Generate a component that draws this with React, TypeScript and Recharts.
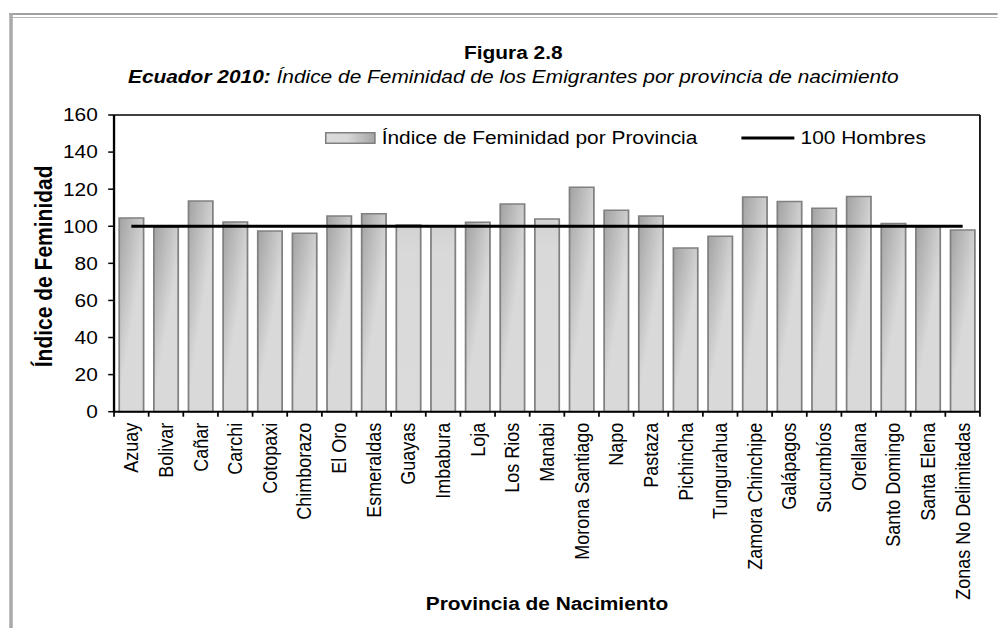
import React from "react";
import {
  Bar,
  Cell,
  ComposedChart,
  Legend,
  Line,
  ReferenceLine,
  XAxis,
  YAxis,
} from "recharts";

const provincias = [
  "Azuay",
  "Bolivar",
  "Cañar",
  "Carchi",
  "Cotopaxi",
  "Chimborazo",
  "El Oro",
  "Esmeraldas",
  "Guayas",
  "Imbabura",
  "Loja",
  "Los Rios",
  "Manabi",
  "Morona Santiago",
  "Napo",
  "Pastaza",
  "Pichincha",
  "Tungurahua",
  "Zamora Chinchipe",
  "Galápagos",
  "Sucumbíos",
  "Orellana",
  "Santo Domingo",
  "Santa Elena",
  "Zonas No Delimitadas",
];

const indiceFeminidad = [
  104.5, 99.6, 113.6, 102.3, 97.5, 96.2, 105.5, 106.8, 100.7, 100.2, 102.2,
  112.0, 103.9, 121.1, 108.7, 105.5, 88.3, 94.6, 115.8, 113.3, 109.7, 116.0,
  101.5, 99.8, 98.0,
];

const hombres = [
  100, 100, 100, 100, 100, 100, 100, 100, 100, 100, 100, 100, 100, 100, 100,
  100, 100, 100, 100, 100, 100, 100, 100, 100, 100,
];

const yTicks = [0, 20, 40, 60, 80, 100, 120, 140, 160];

// barras con relleno claro en el original
const barrasClaras = ["Guayas", "Imbabura", "Manabi"];

const data = provincias.map((p, i) => ({
  provincia: p,
  indice: indiceFeminidad[i],
  hombres: hombres[i],
}));

// the source image is stretched horizontally, so the chart is drawn narrower and scaled
const STRETCH = 1.16;
const W = 860;
const H = 628;
const MARGIN = { top: 115, right: 15.2, bottom: 16.3, left: 0 };
const Y_AXIS_W = 98.3;
const X_AXIS_H = 200;
const BAND = (W - MARGIN.left - MARGIN.right - Y_AXIS_W) / provincias.length;
const FONT = '"Liberation Sans", Arial, Helvetica, sans-serif';

const XTick = (props: any) => {
  const { x, y, payload } = props;
  const index = props.index ?? payload.index;
  const half = BAND / 2;
  const tx = x + 6;
  const ty = y + 11;
  return (
    <g>
      <line x1={x - half} y1={y} x2={x - half} y2={y + 5} stroke="#000" strokeWidth={1.5} />
      {index === provincias.length - 1 && (
        <line x1={x + half} y1={y} x2={x + half} y2={y + 5} stroke="#000" strokeWidth={1.5} />
      )}
      <text
        x={tx}
        y={ty}
        transform={`rotate(-90, ${tx}, ${ty})`}
        textAnchor="end"
        fontSize={18}
        fill="#000"
      >
        {payload.value}
      </text>
    </g>
  );
};

const YTitle = (props: any) => {
  const { viewBox } = props;
  const cx = viewBox.x + 45;
  const cy = viewBox.y + viewBox.height / 2 + 3;
  return (
    <text
      x={cx}
      y={cy}
      transform={`rotate(-90, ${cx}, ${cy})`}
      textAnchor="middle"
      fontSize={21}
      fontWeight="bold"
      fill="#000"
    >
      Índice de Feminidad
    </text>
  );
};

const XTitle = (props: any) => {
  const { viewBox } = props;
  return (
    <text
      x={viewBox.x + viewBox.width / 2}
      y={viewBox.y + 198.3}
      textAnchor="middle"
      fontSize={18}
      fontWeight="bold"
      fill="#000"
    >
      Provincia de Nacimiento
    </text>
  );
};

const LegendContent = () => (
  <div style={{ display: "flex", alignItems: "center", fontSize: 18, color: "#000", lineHeight: "20px" }}>
    <svg width={44} height={12} style={{ marginRight: 5 }}>
      <defs>
        <linearGradient id="legendBar" x1="0" y1="0" x2="1" y2="0">
          <stop offset="0%" stopColor="#dcdcdc" />
          <stop offset="45%" stopColor="#d6d6d6" />
          <stop offset="100%" stopColor="#a4a4a4" />
        </linearGradient>
      </defs>
      <rect x={0.75} y={0.75} width={42.5} height={10.5} fill="url(#legendBar)" stroke="#808080" strokeWidth={1.5} />
    </svg>
    <span>Índice de Feminidad por Provincia</span>
    <svg width={46} height={12} style={{ marginLeft: 38, marginRight: 5 }}>
      <line x1={0} y1={6} x2={46} y2={6} stroke="#000" strokeWidth={3} />
    </svg>
    <span>100 Hombres</span>
  </div>
);

export default function App() {
  return (
    <div
      style={{
        position: "absolute",
        left: 0,
        top: 0,
        width: W,
        height: H,
        transform: `scaleX(${STRETCH})`,
        transformOrigin: "0 0",
        fontFamily: FONT,
        background: "#fff",
        overflow: "hidden",
      }}
    >
      {/* marco gris */}
      <div style={{ position: "absolute", left: 7.8, top: 13, width: W, height: 2, background: "#a0a0a0" }} />
      <div style={{ position: "absolute", left: 7.8, top: 17, width: W, height: 1, background: "#b8b8b8" }} />
      <div style={{ position: "absolute", left: 7.8, top: 13, width: 3.5, height: H - 13, background: "#a9a9a9" }} />

      <div
        style={{
          position: "absolute",
          left: 0,
          top: 43,
          width: 885,
          textAlign: "center",
          fontSize: 18,
          fontWeight: "bold",
          lineHeight: "20px",
          color: "#000",
        }}
      >
        Figura 2.8
      </div>
      <div
        style={{
          position: "absolute",
          left: 0,
          top: 66.5,
          width: 885,
          textAlign: "center",
          fontSize: 18,
          fontStyle: "italic",
          lineHeight: "20px",
          color: "#000",
          whiteSpace: "nowrap",
        }}
      >
        <b>Ecuador 2010:</b> Índice de Feminidad de los Emigrantes por provincia de nacimiento
      </div>

      <div style={{ position: "absolute", left: 0, top: 0 }}>
        <ComposedChart width={W} height={H} data={data} margin={MARGIN} barCategoryGap="15%">
          <defs>
            <linearGradient id="barGrad" x1="0" y1="0" x2="0.45" y2="0.6">
              <stop offset="0%" stopColor="#a2a2a2" />
              <stop offset="100%" stopColor="#d9d9d9" />
            </linearGradient>
            <linearGradient id="barLight" x1="0" y1="0" x2="0" y2="1">
              <stop offset="0%" stopColor="#d2d2d2" />
              <stop offset="15%" stopColor="#d9d9d9" />
              <stop offset="100%" stopColor="#dbdbdb" />
            </linearGradient>
          </defs>
          <XAxis
            dataKey="provincia"
            interval={0}
            height={X_AXIS_H}
            tickSize={0}
            tickMargin={0}
            tickLine={false}
            axisLine={{ stroke: "#000", strokeWidth: 2 }}
            tick={<XTick />}
            label={<XTitle />}
          />
          <YAxis
            domain={[0, 160]}
            ticks={yTicks}
            width={Y_AXIS_W}
            tickSize={5}
            tickMargin={9}
            tick={{ fontSize: 18, fill: "#000" }}
            tickLine={{ stroke: "#000", strokeWidth: 1.5 }}
            axisLine={{ stroke: "#000", strokeWidth: 2 }}
            label={<YTitle />}
          />
          {/* borde superior y derecho del área de trazado */}
          <ReferenceLine y={160} stroke="#000" strokeWidth={1.5} ifOverflow="visible" />
          <ReferenceLine
            x={provincias[provincias.length - 1]}
            position="end"
            stroke="#000"
            strokeWidth={1.5}
            ifOverflow="visible"
          />
          <Legend
            layout="horizontal"
            verticalAlign="middle"
            align="center"
            content={<LegendContent />}
            wrapperStyle={{ left: 280, top: 128, width: 560, height: 20 }}
          />
          <Bar
            dataKey="indice"
            name="Índice de Feminidad por Provincia"
            stroke="#808080"
            strokeWidth={1.5}
            isAnimationActive={false}
          >
            {data.map((d) => (
              <Cell
                key={d.provincia}
                fill={barrasClaras.includes(d.provincia) ? "url(#barLight)" : "url(#barGrad)"}
              />
            ))}
          </Bar>
          <Line
            type="linear"
            dataKey="hombres"
            name="100 Hombres"
            stroke="#000"
            strokeWidth={3}
            dot={false}
            activeDot={false}
            isAnimationActive={false}
          />
        </ComposedChart>
      </div>
    </div>
  );
}
